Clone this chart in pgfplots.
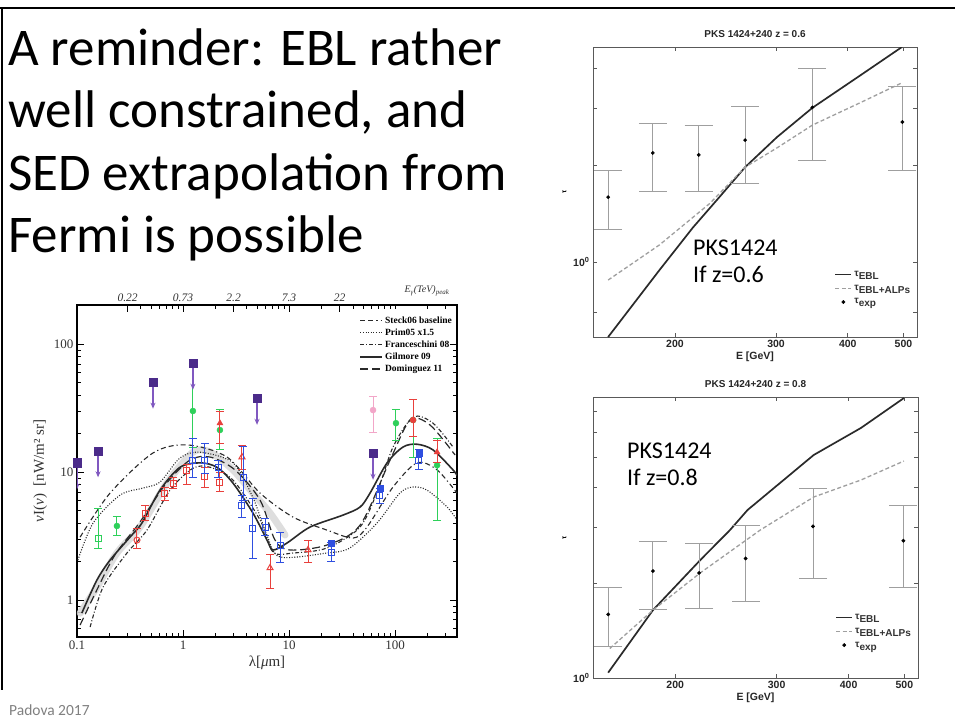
\documentclass[border=0pt]{standalone}
\usepackage{fontspec}
\usepackage{pgfplots}
\pgfplotsset{compat=1.18}
\usepackage{pgfplotstable}
\usetikzlibrary{arrows.meta}
\setmainfont{Carlito}
\newfontfamily\slidefont{Carlito}
\newfontfamily\arialfont{Liberation Sans}
\newfontfamily\timesfont{Liberation Serif}

\definecolor{ulpurple}{HTML}{4B2B8A}
\definecolor{ularrow}{HTML}{8058C0}
\definecolor{dgreen}{HTML}{2ED05A}
\definecolor{dred}{HTML}{E8403C}
\definecolor{dblue}{HTML}{2F4FE0}
\definecolor{dpink}{HTML}{F2A6C8}
\definecolor{curve}{HTML}{2A2A2A}

% ---------------- EBL models (lambda [um], nuI_nu [nW m^-2 sr^-1]) ----------------
\pgfplotstableread{
x y
0.107 3.10
0.205 6.85
0.521 14.1
1.09 16.3
2.60 13.1
5.33 6.85
10.9 4.45
22.8 3.52
40.2 3.05
54.4 3.72
95.7 7.64
161 11.8
249 10.4
384 6.85
}\steck
\pgfplotstableread{
x y
0.102 2.05
0.142 4.00
0.255 6.61
0.419 7.50
0.607 8.35
0.937 12.9
1.45 14.3
2.96 11.8
4.57 6.3
6.20 3.2
8.22 2.17
22.8 2.33
37.4 2.55
67.6 4.00
111 6.85
148 7.64
200 7.23
310 5.33
384 4.22
}\prim
\pgfplotstableread{
x y
0.133 0.615
0.176 1.26
0.296 2.33
0.457 3.52
0.754 7.23
1.24 10.7
1.80 10.9
2.96 8.66
5.33 4.22
7.06 2.37
10.9 2.33
22.8 2.55
46.8 3.72
70 7.5
95.7 15.7
148 26.9
228 24.1
352 15.7
}\fran
\pgfplotstableread{
x y
0.111 0.79
0.154 1.43
0.205 2.05
0.316 3.10
0.410 4.00
0.607 7.23
0.937 10.9
1.45 11.8
2.09 10.9
2.96 8.20
4.57 4.78
6.20 2.94
7.06 2.46
9.57 2.79
15.8 3.72
32.3 4.61
46.8 5.33
58.1 6.85
84.1 11.8
119 15.7
161 16.5
228 14.9
352 10.4
384 9.4
}\gilm
\pgfplotstableread{
x y
0.107 0.638
0.154 1.20
0.228 2.25
0.393 4.07
0.676 7.91
1.16 12.4
1.80 13.1
3.09 10.4
5.33 6.04
7.38 2.94
10.2 2.46
22.8 2.69
46.8 3.85
89.7 12.4
139 25.5
214 23.3
368 13.6
}\domi
\pgfplotstableread{
x y
0.107 0.79
0.154 1.26
0.238 2.33
0.393 3.72
0.706 8.20
1.24 14.3
1.80 14.3
2.96 10.4
4.57 6.85
6.62 4.78
9.17 3.22
}\band

% ---------------- EBL measurements and limits ----------------
\pgfplotstableread{
x y lo
0.1 11.8 7.3
0.158 14.6 9.1
0.521 50.5 31.3
1.24 71.1 44
4.99 37.8 23.4
62 14.1 8.7
}\ulim
\pgfplotstableread{
x y hi lo
0.238 3.79 4.46 3.22
1.24 30.0 71.1 15.6
2.23 21.3 30.6 14.9
102 24.1 30.6 17.8
249 11.3 18.4 4.2
148 25.5 36.6 13.1
}\greenfill
\pgfplotstableread{
x y hi lo
0.158 3.05 5.23 2.55
}\greenopen
\pgfplotstableread{
x y hi lo
0.438 4.78 5.5 4.2
0.676 6.85 7.6 6.0
0.805 8.2 9.0 7.4
1.09 10.2 11.5 8.0
1.61 9.3 10.9 7.6
2.23 8.35 10.0 7.0
}\redsq
\pgfplotstableread{
x y hi lo
0.368 2.94 3.65 2.55
}\redcirc
\pgfplotstableread{
x y hi lo
3.6 13.1 16.2 10.4
6.62 1.78 2.25 1.24
15.1 2.46 2.94 1.95
}\redtri
\pgfplotstableread{
x y hi lo
2.23 24.1 29.9 16.8
249 14.3 17.8 11.8
}\redtrifill
\pgfplotstableread{
x y hi lo
148 25.5 36.6 18.8
}\redfill
\pgfplotstableread{
x y hi lo
1.24 12.4 18.4 9.1
1.61 12.4 16.8 9.8
2.14 10.9 12.4 9.1
3.68 9.1 15.7 6.04
3.6 5.5 6.6 4.4
4.57 3.65 6.26 2.13
5.94 3.72 4.3 3.2
8.22 2.69 3.40 1.98
24.9 2.37 2.8 2.0
72.1 6.61 7.5 5.7
168 12.4 14.9 10.4
}\bluesq
\pgfplotstableread{
x y
24.9 2.79
72.1 7.5
168 14.1
}\bluefill
\pgfplotstableread{
x y hi lo
62 30.5 38.6 20.2
}\pink

% ---------------- PKS 1424+240 optical depth ----------------
\pgfplotstableread{
E tau hi lo
153 1.59 1.93 1.26
183 2.18 2.70 1.65
220 2.15 2.66 1.66
265 2.39 3.04 1.75
347 3.02 3.98 2.06
498 2.72 3.51 1.93
}\texp
\pgfplotstableread{
E tau
153 0.585
188 0.944
215 1.28
239 1.59
265 1.97
301 2.44
347 3.01
420 3.79
497 4.65
}\eblsix
\pgfplotstableread{
E tau
153 0.879
188 1.13
230 1.52
265 1.97
301 2.26
347 2.66
420 3.12
497 3.60
}\alpsix
\pgfplotstableread{
E tau
153 1.04
183 1.64
221 2.36
249 2.94
267 3.40
348 5.08
420 6.18
499 7.69
}\ebleight
\pgfplotstableread{
E tau
154 1.24
183 1.64
221 2.15
281 2.94
348 3.74
420 4.23
499 4.86
}\alpeight

\pgfplotsset{
  sedpts/.style={only marks, #1,
    error bars/y dir=both, error bars/y explicit,
    error bars/error bar style={#1, line width=1pt},
    error bars/error mark options={rotate=90, draw=#1, line width=1pt, mark size=4pt}},
}
\newcommand\taufont{\arialfont\bfseries\fontsize{10.5}{12}\selectfont}

\begin{document}
\begin{tikzpicture}
\fill[white] (0pt,0pt) rectangle (955pt,-724pt);
\path[use as bounding box] (0pt,0pt) rectangle (955pt,-724pt);

% slide frame
\draw[line width=2pt] (0pt,-7.5pt) -- (955pt,-7.5pt);
\draw[line width=2pt] (2pt,-7.5pt) -- (2pt,-690pt);

% slide title
\begin{scope}[every node/.style={anchor=base west, inner sep=0pt,
    font=\slidefont\fontsize{53}{62}\selectfont}]
\node at (8pt,-65pt) {A reminder: EBL rather};
\node at (8pt,-127pt) {well constrained, and};
\node at (8pt,-190pt) {SED extrapolation from};
\node at (8pt,-252pt) {Fermi is possible};
\end{scope}
\node[anchor=base west, inner sep=0pt, text=gray,
  font=\slidefont\fontsize{15.5}{18}\selectfont] at (9pt,-715pt) {Padova 2017};

% ---------------- EBL spectrum ----------------
\begin{axis}[
  at={(77pt,-637pt)}, anchor=south west,
  scale only axis, width=380pt, height=332pt,
  xmode=log, ymode=log,
  xmin=0.1, xmax=384, ymin=0.514, ymax=202,
  log ticks with fixed point,
  /pgf/number format/assume math mode=true,
  xtick pos=left, ytick pos=both, tick align=inside,
  major tick length=7pt, minor tick length=4pt,
  every tick/.style={black, line width=0.7pt},
  axis line style={line width=1.1pt},
  ticklabel style={font=\timesfont\fontsize{13}{15}\selectfont, text=black!80},
  xlabel={λ[\textit{μ}m]},
  xlabel style={font=\timesfont\fontsize{15}{17}\selectfont, text=black!80},
  ylabel={\textit{ν}I(\textit{ν})\ \ [nW/m² sr]},
  ylabel style={font=\timesfont\fontsize{15}{17}\selectfont, text=black!80},
  clip mode=individual,
  legend image code/.code={\draw[#1] (0pt,0pt) -- (22pt,0pt);},
  legend cell align=left,
  legend style={at={(0.995,0.975)}, anchor=north east, draw=none, fill=none,
    font=\timesfont\bfseries\fontsize{9.5}{10}\selectfont, row sep=0pt, inner sep=1pt},
]
\addplot[forget plot, gray!30, line width=7pt, line cap=round, smooth, opacity=0.85]
  table {\band};
\addplot[curve, line width=1.1pt, smooth,
  dash pattern=on 5pt off 3pt on 5pt off 3pt on 1.2pt off 3pt] table {\steck};
\addlegendentry{Steck06 baseline}
\addplot[curve, line width=1.1pt, smooth, dash pattern=on 1pt off 1.6pt] table {\prim};
\addlegendentry{Prim05 x1.5}
\addplot[curve, line width=1.1pt, smooth,
  dash pattern=on 4pt off 2pt on 1pt off 2pt] table {\fran};
\addlegendentry{Franceschini 08}
\addplot[curve, line width=1.6pt, smooth] table {\gilm};
\addlegendentry{Gilmore 09}
\addplot[curve, line width=1.2pt, smooth, dash pattern=on 8pt off 4pt] table {\domi};
\addlegendentry{Dominguez 11}

% measurements
\addplot[forget plot, sedpts={dgreen}, mark=*, mark size=3pt]
  table[x=x, y=y, y error plus expr=\thisrow{hi}-\thisrow{y},
        y error minus expr=\thisrow{y}-\thisrow{lo}] {\greenfill};
\addplot[forget plot, sedpts={dgreen}, mark=square, mark size=3pt, mark options={line width=1pt}]
  table[x=x, y=y, y error plus expr=\thisrow{hi}-\thisrow{y},
        y error minus expr=\thisrow{y}-\thisrow{lo}] {\greenopen};
\addplot[forget plot, sedpts={dred}, mark=square, mark size=3pt, mark options={line width=1pt}]
  table[x=x, y=y, y error plus expr=\thisrow{hi}-\thisrow{y},
        y error minus expr=\thisrow{y}-\thisrow{lo}] {\redsq};
\addplot[forget plot, sedpts={dred}, mark=o, mark size=3pt, mark options={line width=1pt}]
  table[x=x, y=y, y error plus expr=\thisrow{hi}-\thisrow{y},
        y error minus expr=\thisrow{y}-\thisrow{lo}] {\redcirc};
\addplot[forget plot, sedpts={dred}, mark=triangle, mark size=3.5pt, mark options={line width=1pt}]
  table[x=x, y=y, y error plus expr=\thisrow{hi}-\thisrow{y},
        y error minus expr=\thisrow{y}-\thisrow{lo}] {\redtri};
\addplot[forget plot, sedpts={dred}, mark=triangle*, mark size=3.5pt]
  table[x=x, y=y, y error plus expr=\thisrow{hi}-\thisrow{y},
        y error minus expr=\thisrow{y}-\thisrow{lo}] {\redtrifill};
\addplot[forget plot, sedpts={dred}, mark=*, mark size=3pt]
  table[x=x, y=y, y error plus expr=\thisrow{hi}-\thisrow{y},
        y error minus expr=\thisrow{y}-\thisrow{lo}] {\redfill};
\addplot[forget plot, sedpts={dblue}, mark=square, mark size=3pt, mark options={line width=1pt}]
  table[x=x, y=y, y error plus expr=\thisrow{hi}-\thisrow{y},
        y error minus expr=\thisrow{y}-\thisrow{lo}] {\bluesq};
\addplot[forget plot, only marks, dblue, mark=square*, mark size=2.8pt] table {\bluefill};
\addplot[forget plot, sedpts={dpink}, mark=*, mark size=3pt]
  table[x=x, y=y, y error plus expr=\thisrow{hi}-\thisrow{y},
        y error minus expr=\thisrow{y}-\thisrow{lo}] {\pink};
% upper limits
\addplot[forget plot, only marks, mark=square*, mark size=4.2pt, ulpurple,
  error bars/y dir=minus, error bars/y explicit, error bars/error mark=none,
  error bars/error bar style={ularrow, line width=1.5pt, -{Stealth[length=6pt,width=5pt]}}]
  table[x=x, y=y, y error minus expr=\thisrow{y}-\thisrow{lo}] {\ulim};
\end{axis}

% gamma-ray energy scale on the upper edge
\begin{axis}[
  at={(77pt,-637pt)}, anchor=south west,
  scale only axis, width=380pt, height=332pt,
  xmode=log, xmin=0.1, xmax=384, ymin=0, ymax=1,
  hide y axis, axis x line*=top,
  xtick={0.3,1,3,10,30}, xticklabels={0.22,0.73,2.2,7.3,22},
  minor xtick={0.4,0.5,0.6,0.7,0.8,0.9,2,4,5,6,7,8,9,20,40,50,60,70,80,90,100,200,300},
  tick align=inside, major tick length=7pt, minor tick length=4pt,
  every tick/.style={black, line width=0.7pt},
  axis line style={line width=1.1pt},
  xticklabel style={font=\timesfont\itshape\fontsize{11.5}{13}\selectfont, text=black!80},
]
\end{axis}
\node[font=\timesfont\itshape\fontsize{10}{12}\selectfont, text=black!80]
  at (427pt,-291pt) {E\textsubscript{γ}(TeV)\textsubscript{peak}};

% ---------------- PKS 1424+240, z = 0.6 ----------------
\begin{axis}[
  at={(593pt,-337pt)}, anchor=south west, scale only axis,
  width=324pt, height=290pt,
  xmode=log, ymode=log, xmin=144, xmax=528, ymin=0.585, ymax=4.65,
  xtick={200,300,400,500}, xticklabels={200,300,400,500},
  ytick={0.7,1,2,3,4}, yticklabels={,10\textsuperscript{0},,,},
  xtick pos=both, ytick pos=both, tick align=inside,
  major tick length=4pt,
  axis line style={black!65, line width=0.9pt},
  every tick/.style={black!65, line width=0.7pt},
  ticklabel style={font=\taufont, text=black!85},
  title={PKS 1424+240 z = 0.6},
  title style={font=\arialfont\bfseries\fontsize{10}{12}\selectfont, text=black!85},
  xlabel={E [GeV]},
  xlabel style={font=\taufont, text=black!85, yshift=3pt},
  ylabel={τ},
  ylabel style={font=\arialfont\bfseries\fontsize{7}{8}\selectfont},
  legend image code/.code={\draw[mark repeat=2, mark phase=2, #1]
    plot coordinates {(0pt,0pt) (8pt,0pt) (16pt,0pt)};},
  legend cell align=left,
  legend style={at={(0.745,0.235)}, anchor=north west, draw=none, fill=none,
    font=\arialfont\bfseries\fontsize{10}{12}\selectfont, text=black!80,
    row sep=3pt, inner sep=0pt},
]
\addplot[curve, line width=1.7pt] table[x=E, y=tau] {\eblsix};
\addlegendentry{τ\raisebox{-3pt}{EBL}}
\addplot[gray!75, line width=1.3pt, dash pattern=on 4pt off 2.5pt]
  table[x=E, y=tau] {\alpsix};
\addlegendentry{τ\raisebox{-3pt}{EBL+ALPs}}
\addplot[only marks, mark=*, mark size=1.7pt, black,
  error bars/y dir=both, error bars/y explicit,
  error bars/error bar style={gray!75, line width=1pt},
  error bars/error mark options={rotate=90, draw=gray!75, line width=1pt, mark size=14pt}]
  table[x=E, y=tau, y error plus expr=\thisrow{hi}-\thisrow{tau},
  y error minus expr=\thisrow{tau}-\thisrow{lo}] {\texp};
\addlegendentry{τ\raisebox{-3pt}{exp}}
\end{axis}
\node[anchor=base west, inner sep=0pt, font=\slidefont\fontsize{24}{29}\selectfont]
  at (693pt,-255pt) {PKS1424};
\node[anchor=base west, inner sep=0pt, font=\slidefont\fontsize{24}{29}\selectfont]
  at (693pt,-282pt) {If z=0.6};

% ---------------- PKS 1424+240, z = 0.8 ----------------
\begin{axis}[
  at={(593pt,-678pt)}, anchor=south west, scale only axis,
  width=325pt, height=281pt,
  xmode=log, ymode=log, xmin=144, xmax=528, ymin=1, ymax=7.75,
  xtick={200,300,400,500}, xticklabels={200,300,400,500},
  ytick={1,2,3,4,5,6,7}, yticklabels={10\textsuperscript{0},,,,,,},
  xtick pos=both, ytick pos=both, tick align=inside,
  major tick length=4pt,
  axis line style={black!65, line width=0.9pt},
  every tick/.style={black!65, line width=0.7pt},
  ticklabel style={font=\taufont, text=black!85},
  title={PKS 1424+240 z = 0.8},
  title style={font=\arialfont\bfseries\fontsize{10}{12}\selectfont, text=black!85},
  xlabel={E [GeV]},
  xlabel style={font=\taufont, text=black!85, yshift=3pt},
  ylabel={τ},
  ylabel style={font=\arialfont\bfseries\fontsize{7}{8}\selectfont},
  legend image code/.code={\draw[mark repeat=2, mark phase=2, #1]
    plot coordinates {(0pt,0pt) (8pt,0pt) (16pt,0pt)};},
  legend cell align=left,
  legend style={at={(0.745,0.235)}, anchor=north west, draw=none, fill=none,
    font=\arialfont\bfseries\fontsize{10}{12}\selectfont, text=black!80,
    row sep=3pt, inner sep=0pt},
]
\addplot[curve, line width=1.7pt] table[x=E, y=tau] {\ebleight};
\addlegendentry{τ\raisebox{-3pt}{EBL}}
\addplot[gray!75, line width=1.3pt, dash pattern=on 4pt off 2.5pt]
  table[x=E, y=tau] {\alpeight};
\addlegendentry{τ\raisebox{-3pt}{EBL+ALPs}}
\addplot[only marks, mark=*, mark size=1.7pt, black,
  error bars/y dir=both, error bars/y explicit,
  error bars/error bar style={gray!75, line width=1pt},
  error bars/error mark options={rotate=90, draw=gray!75, line width=1pt, mark size=14pt}]
  table[x=E, y=tau, y error plus expr=\thisrow{hi}-\thisrow{tau},
  y error minus expr=\thisrow{tau}-\thisrow{lo}] {\texp};
\addlegendentry{τ\raisebox{-3pt}{exp}}
\end{axis}
\node[anchor=base west, inner sep=0pt, font=\slidefont\fontsize{24}{29}\selectfont]
  at (627pt,-458pt) {PKS1424};
\node[anchor=base west, inner sep=0pt, font=\slidefont\fontsize{24}{29}\selectfont]
  at (627pt,-485pt) {If z=0.8};
\end{tikzpicture}
\end{document}
